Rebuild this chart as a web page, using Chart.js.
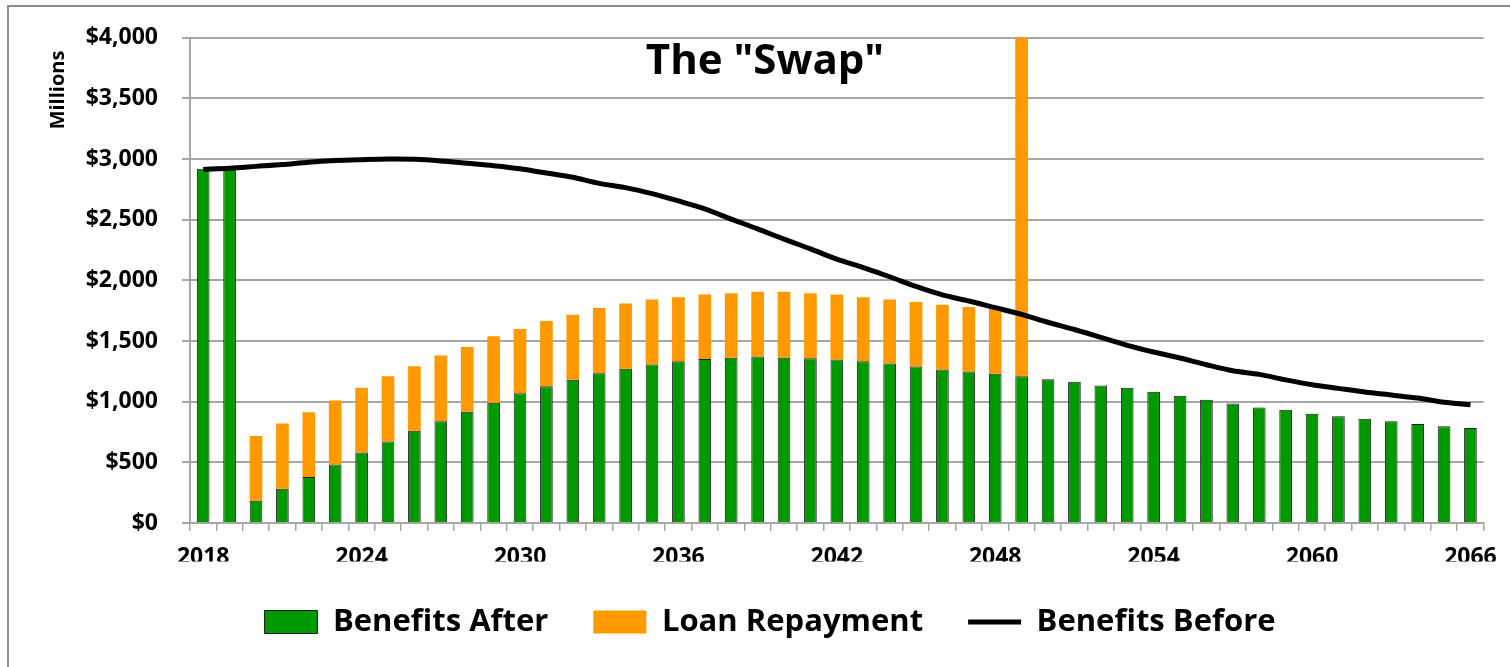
<!DOCTYPE html>
<html>
<head>
<meta charset="utf-8">
<script src="https://cdn.jsdelivr.net/npm/chart.js@4.4.1/dist/chart.umd.min.js"></script>
<style>
  html, body { margin: 0; padding: 0; background: #fff; }
  #wrap { position: relative; width: 1510px; height: 667px; overflow: hidden; }
  #frame { position: absolute; left: 7px; top: 5px; width: 1520px; height: 680px;
           border-left: 2px solid #8c8c8c; border-top: 2px solid #8c8c8c; }
  canvas { position: absolute; left: 0; top: 0; }
</style>
</head>
<body>
<div id="wrap">
  <div id="frame"></div>
  <canvas id="chart" width="1510" height="667"></canvas>
</div>
<script>
const chartTitle = 'The "Swap"';
const axisTitle = 'Millions';

const years = [
  '2018', '2019', '2020', '2021', '2022', '2023', '2024', '2025', '2026', '2027',
  '2028', '2029', '2030', '2031', '2032', '2033', '2034', '2035', '2036', '2037',
  '2038', '2039', '2040', '2041', '2042', '2043', '2044', '2045', '2046', '2047',
  '2048', '2049', '2050', '2051', '2052', '2053', '2054', '2055', '2056', '2057',
  '2058', '2059', '2060', '2061', '2062', '2063', '2064', '2065', '2066'
];

// green bars
const benefitsAfter = [
  2920, 2920, 183, 282, 380, 482, 581, 671, 761, 838,
  917, 991, 1070, 1128, 1180, 1235, 1271, 1306, 1333, 1353,
  1363, 1372, 1363, 1358, 1347, 1333, 1314, 1290, 1265, 1248,
  1230, 1210, 1185, 1164, 1133, 1114, 1082, 1049, 1016, 986,
  953, 934, 901, 881, 860, 838, 816, 797, 783
];

// orange part stacked on top (2049 runs off the top of the axis)
const loanRepayment = [
  0, 0, 534, 539, 534, 528, 534, 539, 531, 542,
  534, 548, 529, 537, 537, 537, 539, 537, 529, 530,
  532, 534, 543, 537, 536, 529, 529, 531, 534, 532,
  540, 5000, 0, 0, 0, 0, 0, 0, 0, 0,
  0, 0, 0, 0, 0, 0, 0, 0, 0
];

// black line
const benefitsBefore = [
  2915, 2925, 2940, 2955, 2975, 2988, 2995, 3000, 2998, 2985,
  2965, 2945, 2920, 2885, 2850, 2800, 2765, 2715, 2655, 2590,
  2505, 2425, 2340, 2260, 2175, 2105, 2030, 1950, 1880, 1830,
  1775, 1720, 1655, 1595, 1530, 1465, 1410, 1360, 1305, 1255,
  1225, 1180, 1140, 1110, 1080, 1055, 1030, 995, 975
];

const yTicks = [0, 500, 1000, 1500, 2000, 2500, 3000, 3500, 4000];

const FONT = '"Open Sans", "Liberation Sans", sans-serif';
const GRID = '#a6a6a6';

const overlayText = {
  id: 'overlayText',
  afterDraw(chart) {
    const ctx = chart.ctx;
    ctx.save();
    ctx.fillStyle = '#000';
    ctx.font = 'bold 42px ' + FONT;
    ctx.textAlign = 'center';
    ctx.textBaseline = 'alphabetic';
    ctx.fillText(chartTitle, 765, 74);

    ctx.translate(58, 90);
    ctx.rotate(-Math.PI / 2);
    ctx.font = 'bold 20px ' + FONT;
    ctx.textBaseline = 'middle';
    ctx.fillText(axisTitle, 0, 0);
    ctx.restore();
  }
};

function draw() {
  new Chart(document.getElementById('chart'), {
    type: 'bar',
    data: {
      labels: years,
      datasets: [
        {
          label: 'Benefits After',
          data: benefitsAfter,
          backgroundColor: '#009900',
          borderColor: '#1c1c1c',
          borderWidth: 1,
          pointStyle: 'rect',
          stack: 'after',
          order: 1
        },
        {
          label: 'Loan Repayment',
          data: loanRepayment,
          backgroundColor: '#ff9900',
          borderWidth: 0,
          pointStyle: 'rect',
          stack: 'after',
          order: 1
        },
        {
          type: 'line',
          label: 'Benefits Before',
          data: benefitsBefore,
          borderColor: '#000',
          backgroundColor: '#000',
          borderWidth: 5,
          pointRadius: 0,
          tension: 0.3,
          pointStyle: 'line',
          stack: 'before',
          order: 0
        }
      ]
    },
    options: {
      responsive: false,
      animation: false,
      devicePixelRatio: 1,
      layout: { padding: { left: 56, right: 26, top: 36, bottom: 19.5 } },
      datasets: {
        bar: { categoryPercentage: 1, barPercentage: 0.48 }
      },
      scales: {
        x: {
          stacked: true,
          grid: { drawOnChartArea: false, tickLength: 8, color: GRID, lineWidth: 1.5, offset: true },
          border: { color: GRID, width: 2 },
          ticks: {
            autoSkip: false,
            maxRotation: 0,
            padding: 13,
            color: '#000',
            font: { family: FONT, weight: 'bold', size: 23 },
            callback: function (v, i) { return i % 6 === 0 ? this.getLabelForValue(v) : ''; }
          },
          afterFit: s => { s.height = 38.5; }
        },
        y: {
          stacked: true,
          min: 0,
          max: 4000,
          afterBuildTicks: s => { s.ticks = yTicks.map(v => ({ value: v })); },
          grid: { color: GRID, lineWidth: 2, tickLength: 8 },
          border: { color: GRID, width: 2 },
          ticks: {
            padding: 24,
            color: '#000',
            font: { family: FONT, weight: 'bold', size: 23 },
            callback: v => '$' + v.toLocaleString('en-US')
          },
          afterFit: s => { s.width = 134; }
        }
      },
      plugins: {
        tooltip: { enabled: false },
        legend: {
          position: 'bottom',
          labels: {
            usePointStyle: true,
            pointStyleWidth: 53,
            boxHeight: 23,
            padding: 45,
            color: '#000',
            font: { family: FONT, weight: 'bold', size: 31 },
            sort: (a, b) => a.datasetIndex - b.datasetIndex
          }
        }
      }
    },
    plugins: [overlayText]
  });
}

document.fonts.load('bold 22px "Open Sans"').then(draw, draw);
</script>
</body>
</html>
